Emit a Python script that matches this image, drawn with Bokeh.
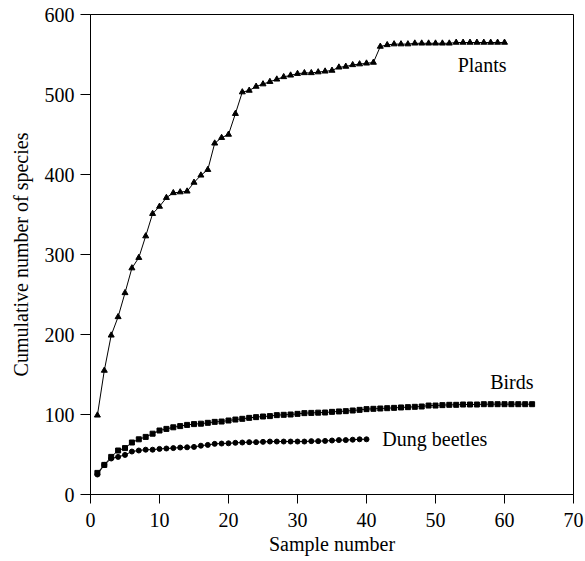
from bokeh.plotting import figure
from bokeh.models import Range1d, FixedTicker
from bokeh.core.properties import value
from bokeh.embed import file_html
from bokeh.resources import INLINE

plants_x = list(range(1, 61))
plants_y = [99, 155, 199, 222, 252, 283, 296, 323, 351, 360,
            371, 377, 378, 379, 390, 399, 406, 439, 446, 450,
            476, 503, 505, 510, 513, 516, 519, 522, 524, 526,
            527, 527, 528, 529, 530, 534, 535, 537, 538, 539,
            540, 560, 562, 563, 563, 563, 564, 564, 564, 564,
            564, 564, 565, 565, 565, 565, 565, 565, 565, 565]

birds_x = list(range(1, 65))
birds_y = [27, 37, 47, 55, 58, 65, 69, 72, 76, 80,
           82, 84, 85.5, 87, 88, 88.5, 89.6, 90.8, 91.2, 92.5,
           93.7, 94.6, 95.8, 96.7, 97.5, 98, 99.2, 99.6, 100, 100.8,
           101.7, 102, 102.3, 102.5, 103.3, 103.8, 104.2, 105, 105.8, 106.7,
           107.1, 107.5, 107.9, 108.3, 108.8, 109.2, 109.6, 110, 111.2, 111.2,
           111.7, 112.1, 112.1, 112.5, 112.5, 112.5, 112.9, 112.9, 112.9, 112.9,
           112.9, 112.9, 112.9, 112.9]

beetles_x = list(range(1, 41))
beetles_y = [25, 37, 45, 47, 49.5, 53.7, 55, 56, 56, 57,
             57.5, 58, 58.7, 59, 59.5, 61, 62, 63.3, 63.7, 64,
             64.6, 65, 65.4, 65.4, 65.8, 66.2, 66.2, 66.2, 66.2, 66.2,
             66.2, 66.7, 66.7, 67, 67.5, 68, 68, 68.5, 69, 69]

x_ticks = [0, 10, 20, 30, 40, 50, 60, 70]
y_ticks = [0, 100, 200, 300, 400, 500, 600]

FONT = "'Liberation Serif', 'Times New Roman', serif"

p = figure(width=585, height=561, output_backend="svg", toolbar_location=None,
           x_range=Range1d(0, 70), y_range=Range1d(0, 600),
           min_border_left=90, min_border_right=12, min_border_top=14,
           min_border_bottom=67)
p.background_fill_color = "white"
p.border_fill_color = "white"
p.outline_line_color = "black"
p.outline_line_width = 1
p.grid.visible = False

for ax in (p.xaxis[0], p.yaxis[0]):
    ax.major_label_text_font = FONT
    ax.major_label_text_font_size = "20px"
    ax.major_label_text_color = "black"
    ax.axis_label_text_font = FONT
    ax.axis_label_text_font_size = "20px"
    ax.axis_label_text_font_style = "normal"
    ax.axis_label_text_color = "black"
    ax.axis_line_color = "black"
    ax.major_tick_line_color = "black"
    ax.minor_tick_line_color = None
    ax.major_tick_out = 10
    ax.major_tick_in = 0

p.xaxis[0].ticker = FixedTicker(ticks=x_ticks)
p.yaxis[0].ticker = FixedTicker(ticks=y_ticks)
p.xaxis[0].axis_label = "Sample number"
p.yaxis[0].axis_label = "Cumulative number of species"
p.xaxis[0].major_tick_out = 9
p.xaxis[0].major_label_standoff = 9
p.xaxis[0].axis_label_standoff = 3
p.yaxis[0].major_label_standoff = 6
p.yaxis[0].axis_label_standoff = 10

p.line(plants_x, plants_y, line_color="black", line_width=1)
p.scatter(plants_x, plants_y, marker="triangle", size=6, color="black")

p.line(birds_x, birds_y, line_color="black", line_width=1)
p.scatter(birds_x, birds_y, marker="square", size=5, color="black")

p.line(beetles_x, beetles_y, line_color="black", line_width=1)
p.scatter(beetles_x, beetles_y, marker="circle", size=5, color="black")

p.text(x=[60.3], y=[537], text=["Plants"], text_font=value(FONT),
       text_font_size="20px", text_align="right", text_baseline="middle",
       text_color="black")
p.text(x=[64.2], y=[141], text=["Birds"], text_font=value(FONT),
       text_font_size="20px", text_align="right", text_baseline="middle",
       text_color="black")
p.text(x=[42.3], y=[70], text=["Dung beetles"], text_font=value(FONT),
       text_font_size="20px", text_align="left", text_baseline="middle",
       text_color="black")

open("out.html", "w").write(file_html(p, INLINE))
